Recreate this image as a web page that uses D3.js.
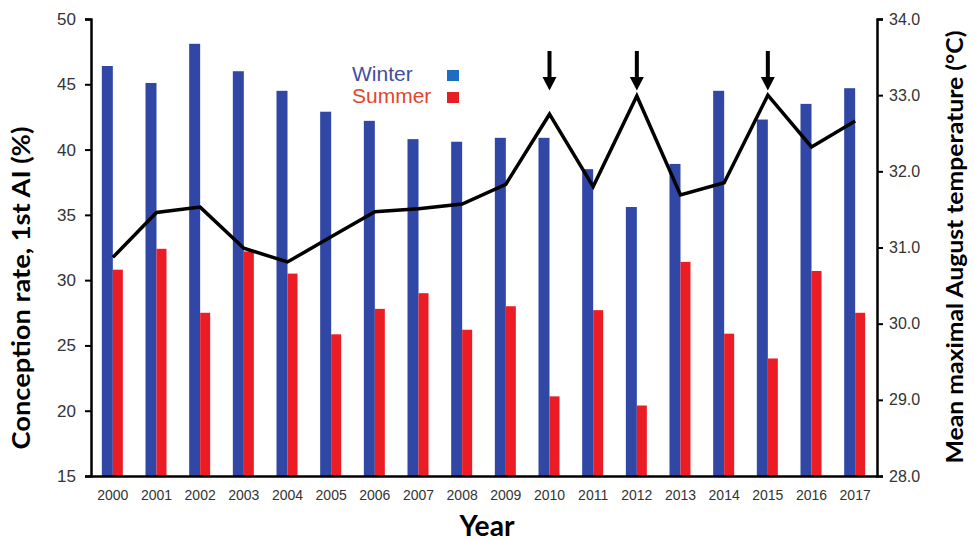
<!DOCTYPE html>
<html>
<head>
<meta charset="utf-8">
<script src="https://cdn.jsdelivr.net/npm/d3@7"></script>
<style>
  body { margin: 0; background: #fff; }
  svg { display: block; font-family: Lato, "Open Sans", sans-serif; }
</style>
</head>
<body>
<script>
var years = [2000, 2001, 2002, 2003, 2004, 2005, 2006, 2007, 2008,
  2009, 2010, 2011, 2012, 2013, 2014, 2015, 2016, 2017];
var winter = [46.4, 45.1, 48.1, 46.0, 44.5, 42.9, 42.2, 40.8, 40.6,
  40.9, 40.9, 38.5, 35.6, 38.9, 44.5, 42.3, 43.5, 44.7];
var summer = [30.8, 32.4, 27.5, 32.2, 30.5, 25.85, 27.8, 29.0, 26.2,
  28.0, 21.1, 27.7, 20.4, 31.4, 25.9, 24.0, 30.7, 27.5];
var temperature = [30.87, 31.46, 31.53, 30.99, 30.81, 31.14, 31.47, 31.51, 31.57,
  31.83, 32.75, 31.8, 32.99, 31.69, 31.85, 33.0, 32.32, 32.66];
var arrowYears = [2010, 2012, 2015];
var leftTicks = [15, 20, 25, 30, 35, 40, 45, 50];
var rightTicks = [28, 29, 30, 31, 32, 33, 34];

var width = 975, height = 541,
  margin = { top: 19, right: 98, bottom: 65, left: 91 };

var svg = d3.select("body").append("svg")
  .attr("width", width)
  .attr("height", height);

var x = d3.scaleBand()
  .domain(years)
  .range([margin.left, width - margin.right]);
var yL = d3.scaleLinear()
  .domain([15, 50])
  .range([height - margin.bottom, margin.top]);
var yR = d3.scaleLinear()
  .domain([28, 34])
  .range([height - margin.bottom, margin.top]);

var barW = 11;

// bars
svg.append("g").selectAll("rect")
  .data(years)
  .enter().append("rect")
  .attr("x", function (d) { return x(d) + x.bandwidth() / 2 - barW; })
  .attr("y", function (d, i) { return yL(winter[i]); })
  .attr("width", barW)
  .attr("height", function (d, i) { return yL(15) - yL(winter[i]); })
  .attr("fill", "#3147a6");

svg.append("g").selectAll("rect")
  .data(years)
  .enter().append("rect")
  .attr("x", function (d) { return x(d) + x.bandwidth() / 2; })
  .attr("y", function (d, i) { return yL(summer[i]); })
  .attr("width", barW - 1)
  .attr("height", function (d, i) { return yL(15) - yL(summer[i]); })
  .attr("fill", "#ec1c24");

// temperature line
var line = d3.line()
  .x(function (d, i) { return x(years[i]) + x.bandwidth() / 2; })
  .y(function (d) { return yR(d); });

svg.append("path")
  .datum(temperature)
  .attr("d", line)
  .attr("fill", "none")
  .attr("stroke", "#000")
  .attr("stroke-width", 3.5)
  .attr("stroke-linejoin", "miter");

// arrows over the hottest years
var arrows = svg.append("g").selectAll("g")
  .data(arrowYears)
  .enter().append("g")
  .attr("transform", function (d) {
    return "translate(" + (x(d) + x.bandwidth() / 2) + ",0)";
  });
arrows.append("line")
  .attr("x1", 0).attr("x2", 0)
  .attr("y1", yR(33.58))
  .attr("y2", yR(33.2))
  .attr("stroke", "#000")
  .attr("stroke-width", 4);
arrows.append("path")
  .attr("d", "M-7," + yR(33.24) + "L7," + yR(33.24) + "L0," + yR(33.06) + "Z")
  .attr("fill", "#000");

// axes
var axisL = d3.axisLeft(yL).tickValues(leftTicks).tickSize(6).tickPadding(9);
var axisR = d3.axisRight(yR).tickValues(rightTicks).tickSize(6).tickPadding(6)
  .tickFormat(d3.format(".1f"));
var axisB = d3.axisBottom(x).tickSize(0).tickPadding(14);

var gL = svg.append("g")
  .attr("transform", "translate(" + margin.left + ",0)")
  .call(axisL);
var gR = svg.append("g")
  .attr("transform", "translate(" + (width - margin.right) + ",0)")
  .call(axisR);
var gB = svg.append("g")
  .attr("transform", "translate(0," + (height - margin.bottom) + ")")
  .call(axisB);

[gL, gR, gB].forEach(function (g) {
  g.select(".domain").attr("stroke", "#000").attr("stroke-width", 2.5);
  g.selectAll(".tick line").attr("stroke", "#000").attr("stroke-width", 2);
  g.selectAll(".tick text").attr("fill", "#333");
});
gL.selectAll(".tick text").style("font-size", "17px");
gR.selectAll(".tick text").style("font-size", "16px");
gB.selectAll(".tick text").style("font-size", "14px");

// axis titles
svg.append("text")
  .attr("transform", "translate(30,288)rotate(-90)")
  .attr("text-anchor", "middle")
  .attr("textLength", 323)
  .attr("lengthAdjust", "spacingAndGlyphs")
  .style("font-size", "24px")
  .style("font-weight", "bold")
  .text("Conception rate, 1st AI (%)");

svg.append("text")
  .attr("transform", "translate(963,247)rotate(-90)")
  .attr("text-anchor", "middle")
  .attr("textLength", 433)
  .attr("lengthAdjust", "spacingAndGlyphs")
  .style("font-size", "22px")
  .style("font-weight", "bold")
  .text("Mean maximal August temperature (°C)");

svg.append("text")
  .attr("x", 487)
  .attr("y", 536)
  .attr("text-anchor", "middle")
  .attr("textLength", 55)
  .attr("lengthAdjust", "spacingAndGlyphs")
  .style("font-size", "29px")
  .style("font-weight", "bold")
  .text("Year");

// legend
var legend = [
  { name: "Winter", text: "#434ea0", box: "#1d6ec2", y: 81 },
  { name: "Summer", text: "#e2452f", box: "#e61e26", y: 103 }
];
var lg = svg.append("g").selectAll("g")
  .data(legend)
  .enter().append("g");
lg.append("text")
  .attr("x", 352)
  .attr("y", function (d) { return d.y; })
  .style("font-family", "'Liberation Sans', Arial, sans-serif")
  .style("font-size", "21px")
  .attr("fill", function (d) { return d.text; })
  .text(function (d) { return d.name; });
lg.append("rect")
  .attr("x", 447)
  .attr("y", function (d) { return d.y - 11; })
  .attr("width", 12)
  .attr("height", 11)
  .attr("fill", function (d) { return d.box; });
</script>
</body>
</html>
